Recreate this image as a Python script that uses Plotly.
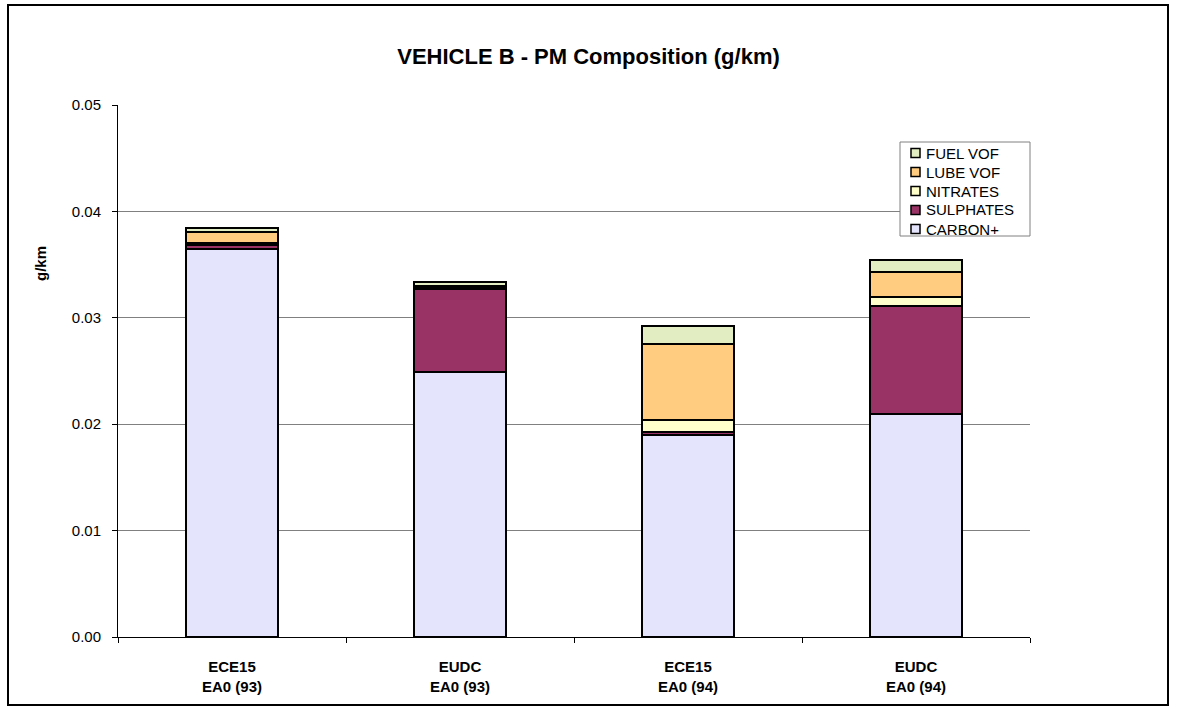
import plotly.graph_objects as go

# Test cycles / fuels
categories = ["ECE15<br>EA0 (93)", "EUDC<br>EA0 (93)", "ECE15<br>EA0 (94)", "EUDC<br>EA0 (94)"]

# PM composition components (g/km)
carbon = [0.0365, 0.0249, 0.0190, 0.0210]
sulphates = [0.0003, 0.0078, 0.0003, 0.0101]
nitrates = [0.0002, 0.0001, 0.0011, 0.0009]
lube_vof = [0.0011, 0.0002, 0.0071, 0.0023]
fuel_vof = [0.0003, 0.0004, 0.0017, 0.0011]

series_names = ["CARBON+", "SULPHATES", "NITRATES", "LUBE VOF", "FUEL VOF"]
series_values = [carbon, sulphates, nitrates, lube_vof, fuel_vof]
series_colors = ["#E4E4FC", "#993366", "#FFFFCC", "#FFCC80", "#E2EEC2"]

FONT = "Liberation Sans, Arial, sans-serif"

fig = go.Figure()
for name, vals, color in zip(series_names, series_values, series_colors):
    fig.add_trace(go.Bar(
        name=name, x=categories, y=vals,
        marker=dict(color=color, line=dict(color="#000000", width=2)),
    ))

W, H = 1177, 713
L, R, T, B = 118, 1030, 105, 637


def px_x(px):
    return (px - L) / (R - L)


def px_y(py):
    return (B - py) / (B - T)


fig.update_layout(
    width=W, height=H,
    margin=dict(l=L, r=W - R, t=T, b=H - B),
    paper_bgcolor="white", plot_bgcolor="white",
    barmode="stack", bargap=0.6,
    font=dict(family=FONT, size=15, color="#000000"),
    title=dict(text="<b>VEHICLE B - PM Composition (g/km)</b>",
               x=0.5, xref="container", y=1 - 56 / H, yref="container",
               xanchor="center", yanchor="middle",
               font=dict(family=FONT, size=22, color="#000000")),
    showlegend=False,
)

fig.update_yaxes(
    range=[0, 0.05], dtick=0.01, tickformat=".2f",
    showgrid=True, gridcolor="#808080", gridwidth=1,
    showline=True, linecolor="#000000", linewidth=1,
    ticks="outside", ticklen=5, tickcolor="#000000",
    ticklabelstandoff=8,
    zeroline=False,
    tickfont=dict(family=FONT, size=15),
)
fig.update_xaxes(
    showline=True, linecolor="#000000", linewidth=1,
    ticks="outside", ticklen=5, tickcolor="#000000", tickson="boundaries",
    tickfont=dict(family=FONT, size=15),
    ticklabelstandoff=16,
    showgrid=False,
    tickvals=categories,
    ticktext=["<b>" + c.replace("<br>", "</b><br><b>") + "</b>" for c in categories],
)

# y-axis title
fig.add_annotation(text="<b>g/km</b>", xref="paper", yref="paper",
                   x=px_x(40), y=px_y(264), textangle=-90, showarrow=False,
                   xanchor="center", yanchor="middle",
                   font=dict(family=FONT, size=15, color="#000000"))

# legend box (top entry first)
box_l, box_r, box_t, box_b = 900, 1030, 142, 236
fig.add_shape(type="rect", xref="paper", yref="paper",
              x0=px_x(box_l), x1=px_x(box_r), y0=px_y(box_b), y1=px_y(box_t),
              line=dict(color="#808080", width=1), fillcolor="white")
row_y = [153, 172, 191, 210, 229]
for i, (name, color) in enumerate(zip(series_names[::-1], series_colors[::-1])):
    yc = row_y[i]
    fig.add_shape(type="rect", xref="paper", yref="paper",
                  x0=px_x(911), x1=px_x(920), y0=px_y(yc + 4.5), y1=px_y(yc - 4.5),
                  line=dict(color="#000000", width=1.5), fillcolor=color)
    fig.add_annotation(text=name, xref="paper", yref="paper",
                       x=px_x(924), y=px_y(yc), showarrow=False,
                       xanchor="left", yanchor="middle",
                       font=dict(family=FONT, size=15, color="#000000"))

# outer chart frame
fig.add_shape(type="rect", xref="paper", yref="paper",
              x0=px_x(8), x1=px_x(1168), y0=px_y(705), y1=px_y(5),
              line=dict(color="#000000", width=2), fillcolor="rgba(0,0,0,0)",
              layer="below")

fig.write_html("out.html")
